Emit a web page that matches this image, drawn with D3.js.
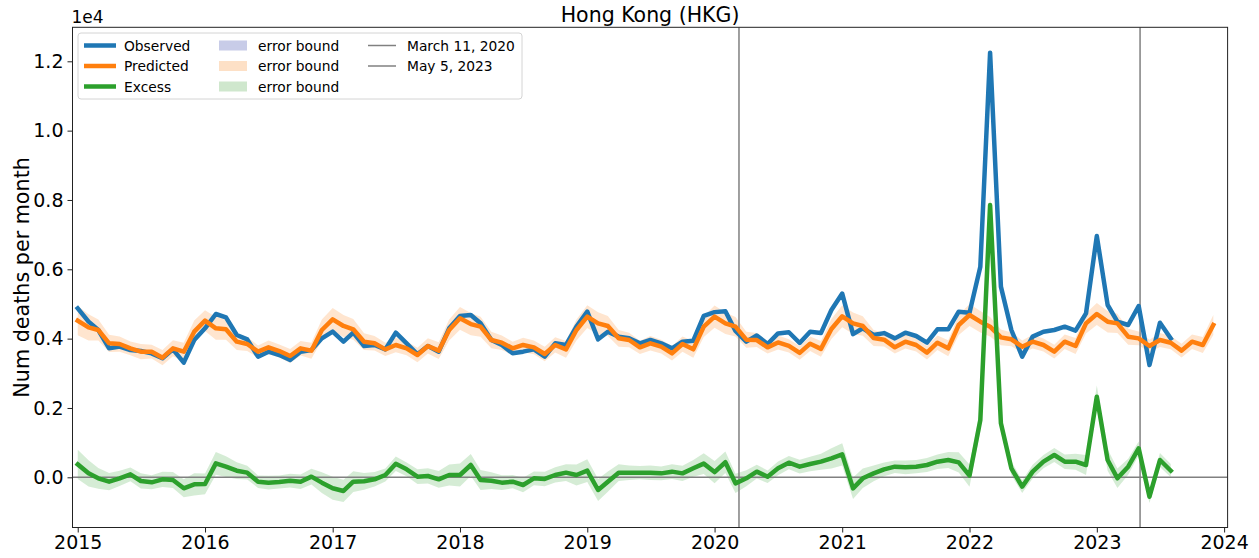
<!DOCTYPE html>
<html><head><meta charset="utf-8">
<script src="https://cdn.jsdelivr.net/npm/d3@7"></script>
<style>body{margin:0;background:#fff} svg{display:block} text{font-family:"DejaVu Sans",sans-serif;fill:#000}</style>
</head><body><svg id="c" width="1259" height="558"></svg>
<script>
// Monthly values, Jan 2015 onward
const observed = [
 4874,4490,4249,3720,3769,3672,3643,3576,3432,3691,3307,3961,
 4297,4711,4615,4105,3980,3480,3624,3528,3384,3624,3672,4009,
 4201,3913,4172,3788,3817,3691,4172,3865,3547,3788,3624,4297,
 4653,4682,4442,3961,3817,3576,3624,3691,3480,3865,3817,4345,
 4778,3980,4201,4057,4009,3865,3961,3865,3720,3913,3942,4660,
 4765,4790,4220,3913,4090,3845,4150,4185,3875,4201,4160,4826,
 5300,4130,4300,4105,4160,4008,4172,4076,3883,4268,4268,4778,
 4749,6076,12249,5500,4249,3480,4057,4201,4249,4345,4230,4730,
 6961,4970,4489,4393,4941,3239,4460,4008
];
const predicted = [
 4518,4326,4249,3865,3845,3720,3624,3624,3451,3720,3624,4201,
 4518,4297,4268,3913,3845,3624,3749,3643,3499,3720,3653,4249,
 4557,4365,4268,3913,3865,3691,3817,3720,3528,3788,3653,4249,
 4586,4420,4345,3961,3884,3720,3817,3749,3557,3817,3691,4249,
 4634,4442,4365,4009,3961,3749,3865,3768,3576,3845,3691,4345,
 4634,4442,4345,3970,3960,3749,3890,3790,3590,3855,3705,4280,
 4645,4442,4365,4020,3970,3749,3912,3816,3595,3883,3720,4393,
 4682,4489,4345,4037,3980,3768,3912,3816,3624,3912,3787,4441,
 4710,4489,4441,4056,4008,3787,3960,3883,3653,3912,3816,4393
];
const excess = [
 374,114,-29,-126,-29,86,-106,-144,-58,-77,-317,-202,
 -192,403,307,191,134,-126,-154,-135,-97,-126,19,-154,
 -317,-394,-126,-116,-58,67,390,230,19,38,-58,67,
 67,355,-77,-97,-154,-126,-222,-29,-48,67,134,67,
 191,-366,-126,134,134,134,134,114,163,114,259,395,
 150,435,-174,-29,163,18,259,422,307,384,451,547,
 663,-318,-29,114,230,307,288,307,355,451,499,430,
 50,1653,7855,1557,258,-270,163,451,643,451,451,355,
 2326,499,-29,307,835,-559,499,191
];
const errBound = [
 420,380,300,250,220,200,220,200,220,230,260,320,
 300,330,300,240,200,180,200,190,200,210,230,300,
 330,320,300,240,210,190,210,200,210,220,240,300,
 330,320,290,240,210,190,210,200,210,220,240,300,
 330,320,290,240,210,190,210,200,210,220,240,300,
 320,310,280,230,200,180,200,190,200,210,230,290,
 320,310,280,230,200,180,200,190,200,210,230,290,
 320,310,280,230,200,180,200,190,200,210,230,290,
 320,310,280,230,200,180,200,190,200,210,230,290
];
const yearTicks = [2015,2016,2017,2018,2019,2020,2021,2022,2023,2024];
const yTicks = [0,2000,4000,6000,8000,10000,12000];
const events = [
 {label:"March 11, 2020", date:[2020,2,11]},
 {label:"May 5, 2023", date:[2023,4,5]}
];
const seriesNames = ["Observed","Predicted","Excess"];
const colors = {Observed:"#1f77b4", Predicted:"#ff7f0e", Excess:"#2ca02c"};
const bandSwatch = ["#c8cce8","#fde0c6","#cfe7cd"];

const months = d3.timeMonth.range(new Date(2015,0,1), new Date(2024,0,1));
const svg = d3.select("#c");
const L=72.5, R=1227.6, T=27.3, B=527.5;
const x = d3.scaleTime().domain([new Date(2014,11,17), new Date(2024,0,11)]).range([L,R]);
const y = d3.scaleLinear().domain([-1448,12981]).range([B,T]);

const clip = svg.append("defs").append("clipPath").attr("id","clp")
  .append("rect").attr("x",L).attr("y",T).attr("width",R-L).attr("height",B-T);
const plot = svg.append("g").attr("clip-path","url(#clp)");

// bands
const band = (vals) => d3.area()
  .x((d,i)=>x(months[i]))
  .y0((d,i)=>y(vals[i]-errBound[i]))
  .y1((d,i)=>y(vals[i]+errBound[i]));
plot.append("path").datum(predicted).attr("d",band(predicted))
  .attr("fill",colors.Predicted).attr("fill-opacity",0.2);
plot.append("path").datum(excess).attr("d",band(excess))
  .attr("fill",colors.Excess).attr("fill-opacity",0.2);

// reference lines
plot.append("line").attr("x1",L).attr("x2",R).attr("y1",y(0)).attr("y2",y(0))
  .attr("stroke","#808080").attr("stroke-width",1.5);
events.forEach(e=>{
  const xx = x(new Date(e.date[0],e.date[1],e.date[2]));
  plot.append("line").attr("x1",xx).attr("x2",xx).attr("y1",T).attr("y2",B)
    .attr("stroke","#808080").attr("stroke-width",1.5);
});

const line = d3.line().x((d,i)=>x(months[i])).y(d=>y(d));
[[observed,"Observed"],[predicted,"Predicted"],[excess,"Excess"]].forEach(([v,n])=>{
  plot.append("path").datum(v).attr("d",line).attr("fill","none")
    .attr("stroke",colors[n]).attr("stroke-width",4.5)
    .attr("stroke-linejoin","round").attr("stroke-linecap","square");
});

// axes
const xa = svg.append("g").attr("transform",`translate(0,${B})`)
  .call(d3.axisBottom(x).tickValues(yearTicks.map(yr=>new Date(yr,0,1)))
    .tickFormat(d3.timeFormat("%Y")).tickSize(5).tickPadding(3).tickSizeOuter(0));
const ya = svg.append("g").attr("transform",`translate(${L},0)`)
  .call(d3.axisLeft(y).tickValues(yTicks).tickFormat(v=>(v/10000).toFixed(1))
    .tickSize(5).tickPadding(4).tickSizeOuter(0));
[xa,ya].forEach(a=>{
  a.select(".domain").remove();
  a.selectAll("text").attr("font-size","19px").attr("font-family","DejaVu Sans").attr("fill","#111");
  a.selectAll("line").attr("stroke","#222").attr("stroke-width",1);
});
svg.append("rect").attr("x",L).attr("y",T).attr("width",R-L).attr("height",B-T)
  .attr("fill","none").attr("stroke","#222").attr("stroke-width",1);

// texts
svg.append("text").attr("x",(L+R)/2).attr("y",22).attr("text-anchor","middle")
  .attr("font-size","20.5px").text("Hong Kong (HKG)");
svg.append("text").attr("x",L-1).attr("y",23).attr("font-size","17px").text("1e4");
svg.append("text").attr("transform",`translate(29,${(T+B)/2}) rotate(-90)`)
  .attr("text-anchor","middle").attr("font-size","20.7px").text("Num deaths per month");

// legend
const lg = svg.append("g");
lg.append("rect").attr("x",78).attr("y",33).attr("width",444).attr("height",66).attr("rx",3)
  .attr("fill","#fff").attr("fill-opacity",0.8).attr("stroke","#d4d4d4");
const rowsY=[45.5,66,86.5];
seriesNames.forEach((n,i)=>{
  lg.append("line").attr("x1",84).attr("x2",116).attr("y1",rowsY[i]).attr("y2",rowsY[i])
    .attr("stroke",colors[n]).attr("stroke-width",4.5);
  lg.append("text").attr("x",124).attr("y",rowsY[i]+5).attr("font-size","13.8px").text(n);
  lg.append("rect").attr("x",219).attr("y",rowsY[i]-5).attr("width",28).attr("height",10)
    .attr("fill",bandSwatch[i]);
  lg.append("text").attr("x",258).attr("y",rowsY[i]+5).attr("font-size","13.8px").text("error bound");
});
events.forEach((e,i)=>{
  lg.append("line").attr("x1",368).attr("x2",396).attr("y1",rowsY[i]).attr("y2",rowsY[i])
    .attr("stroke","#808080").attr("stroke-width",1.5);
  lg.append("text").attr("x",407).attr("y",rowsY[i]+5).attr("font-size","13.8px").text(e.label);
});
</script></body></html>
